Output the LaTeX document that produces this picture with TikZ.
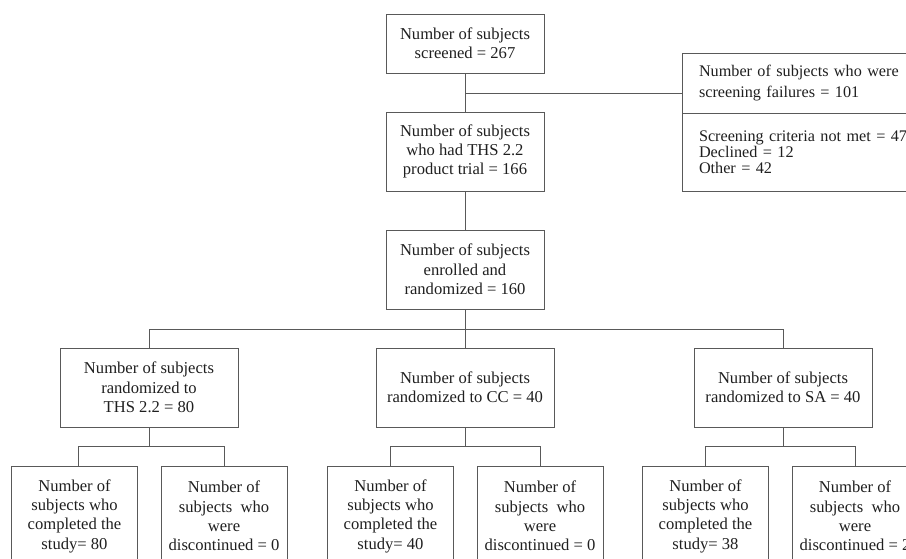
\documentclass[tikz,border=0pt]{standalone}
\usepackage{fontspec}
\setmainfont{Liberation Serif}
\definecolor{linec}{gray}{0.35}
\definecolor{textc}{gray}{0.12}
\begin{document}
\begin{tikzpicture}[x=1pt,y=-1pt,
  bx/.style={draw=linec, line width=0.8pt, inner sep=0pt, align=center, text=textc,
    font=\fontsize{16.6}{19.3}\selectfont},
  fbx/.style={draw=linec, line width=0.8pt, inner ysep=0pt, inner xsep=17pt, align=left,
    text width=215pt, minimum width=249pt, text=textc},
  conn/.style={draw=linec, line width=0.8pt}]
\useasboundingbox (0,0) rectangle (906,559);
\clip (0,0) rectangle (906,559);

\node[bx, minimum width=158pt, minimum height=59pt] (scr) at (465,43.5)
  {Number of subjects\\screened = 267};
\node[bx, minimum width=158pt, minimum height=79pt] (trial) at (465,151.5)
  {Number of subjects\\who had THS 2.2\\product trial = 166};
\node[bx, minimum width=158pt, minimum height=79pt] (enr) at (465,269.5)
  {Number of subjects\\enrolled and\\randomized = 160};

\node[fbx, minimum height=60pt, font=\fontsize{16.2}{20.3}\selectfont] (fail) at (806.5,83)
  {Number of subjects who were\\screening failures = 101};
\node[fbx, minimum height=78pt, font=\fontsize{16.2}{16.2}\selectfont] (reas) at (806.5,152)
  {Screening criteria not met = 47\\Declined = 12\\Other = 42};

\node[bx, minimum width=178pt, minimum height=79pt] (ths) at (149,387.5)
  {Number of subjects\\randomized to\\THS 2.2 = 80};
\node[bx, minimum width=178pt, minimum height=79pt] (cc) at (465,387.5)
  {Number of subjects\\randomized to CC = 40};
\node[bx, minimum width=178pt, minimum height=79pt] (sa) at (783,387.5)
  {Number of subjects\\randomized to SA = 40};

\node[bx, minimum width=126pt, minimum height=100pt] (b1) at (74.5,516)
  {Number of\\subjects who\\completed the\\study= 80};
\node[bx, minimum width=126pt, minimum height=100pt] (b2) at (224,516)
  {Number of\\subjects~ who\\were\\discontinued = 0};
\node[bx, minimum width=126pt, minimum height=100pt] (b3) at (390.5,516)
  {Number of\\subjects who\\completed the\\study= 40};
\node[bx, minimum width=126pt, minimum height=100pt] (b4) at (540,516)
  {Number of\\subjects~ who\\were\\discontinued = 0};
\node[bx, minimum width=126pt, minimum height=100pt] (b5) at (705.5,516)
  {Number of\\subjects who\\completed the\\study= 38};
\node[bx, minimum width=126pt, minimum height=100pt] (b6) at (855,516)
  {Number of\\subjects~ who\\were\\discontinued = 2};

% top chain
\draw[conn] (scr.south) -- (trial.north);
\coordinate (j1) at (465,93);
\draw[conn] (j1) -- (j1 -| fail.west);
\draw[conn] (trial.south) -- (enr.north);

% randomization split
\coordinate (j2) at (465,329);
\draw[conn] (enr.south) -- (cc.north);
\draw[conn] (ths.north) |- (j2);
\draw[conn] (j2) -| (sa.north);

% arm splits
\draw[conn] (ths.south) -- ++(0,19) coordinate (t1);
\draw[conn] ([xshift=3.5pt]b1.north) |- (t1) -| (b2.north);
\draw[conn] (cc.south) -- ++(0,19) coordinate (c1);
\draw[conn] (b3.north) |- (c1) -| (b4.north);
\draw[conn] (sa.south) -- ++(0,19) coordinate (s1);
\draw[conn] (b5.north) |- (s1) -| (b6.north);
\end{tikzpicture}
\end{document}
